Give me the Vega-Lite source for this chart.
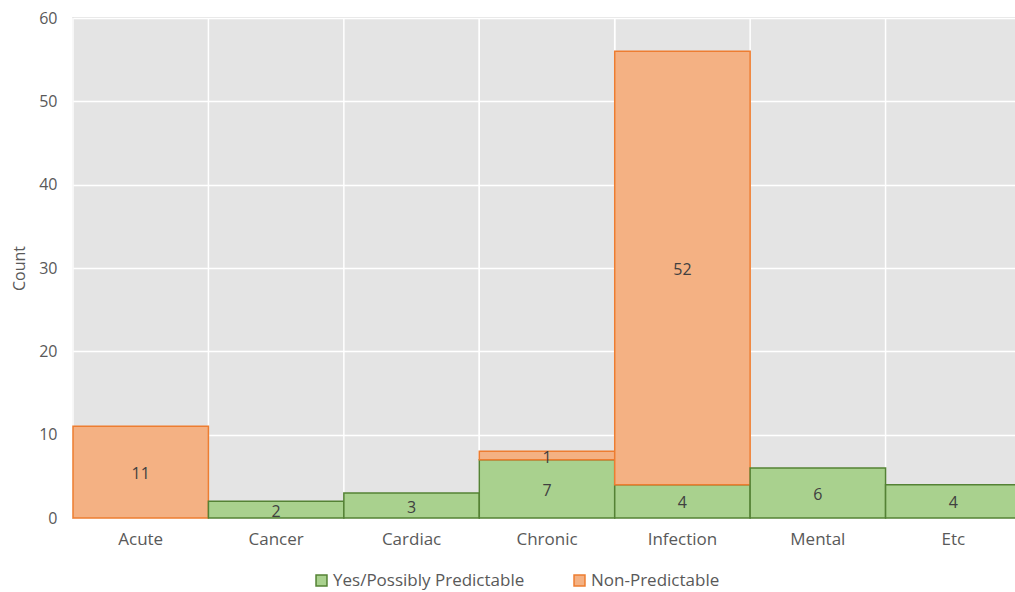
{
  "$schema": "https://vega.github.io/schema/vega-lite/v6.json",
  "width": 948,
  "height": 500,
  "autosize": {"type": "none"},
  "padding": {"left": 73, "top": 18, "right": -6, "bottom": 74},
  "background": "white",
  "config": {
    "font": "Open Sans",
    "view": {"fill": "#e4e4e4", "stroke": "#d9d9d9", "strokeWidth": 1.5},
    "axis": {"labelFont": "Open Sans", "titleFont": "Open Sans", "labelColor": "#595959", "titleColor": "#595959", "labelFontSize": 16, "titleFontSize": 16, "titleFontWeight": "normal"}
  },
  "data": {"values": [
    {"cat": "Acute", "series": "Non-Predictable", "count": 11},
    {"cat": "Cancer", "series": "Yes/Possibly Predictable", "count": 2},
    {"cat": "Cardiac", "series": "Yes/Possibly Predictable", "count": 3},
    {"cat": "Chronic", "series": "Yes/Possibly Predictable", "count": 7},
    {"cat": "Chronic", "series": "Non-Predictable", "count": 1},
    {"cat": "Infection", "series": "Yes/Possibly Predictable", "count": 4},
    {"cat": "Infection", "series": "Non-Predictable", "count": 52},
    {"cat": "Mental", "series": "Yes/Possibly Predictable", "count": 6},
    {"cat": "Etc", "series": "Yes/Possibly Predictable", "count": 4}
  ]},
  "layer": [
    {
      "mark": {"type": "rule", "color": "white", "strokeWidth": 1.5},
      "encoding": {
        "x": {"field": "cat", "type": "nominal", "bandPosition": 0, "sort": ["Acute","Cancer","Cardiac","Chronic","Infection","Mental","Etc"]}
      }
    },
    {
      "mark": {"type": "bar", "strokeWidth": 1.5},
      "encoding": {
        "x": {"field": "cat", "type": "nominal", "sort": ["Acute","Cancer","Cardiac","Chronic","Infection","Mental","Etc"],
              "scale": {"paddingInner": 0, "paddingOuter": 0},
              "axis": {"title": null, "labelAngle": 0, "labelAlign": "center", "bandPosition": 0.5, "ticks": false, "domain": false, "grid": false, "labelPadding": 21, "labelFontSize": 17}},
        "y": {"field": "count", "type": "quantitative", "stack": "zero",
              "scale": {"domain": [0, 60]},
              "axis": {"title": "Count", "values": [0,10,20,30,40,50,60], "ticks": false, "domain": false, "grid": true, "gridColor": "white", "gridWidth": 1.5, "labelPadding": 16, "titlePadding": 11}},
        "color": {"field": "series", "type": "nominal",
                  "scale": {"domain": ["Yes/Possibly Predictable", "Non-Predictable"], "range": ["#a9d18e", "#f4b183"]},
                  "legend": {"title": null, "orient": "none", "legendX": 240, "legendY": 554, "direction": "horizontal", "symbolType": "square", "symbolSize": 120, "symbolStrokeWidth": 1.5, "labelFontSize": 17, "labelColor": "#595959", "labelFont": "Open Sans", "labelLimit": 0, "columnPadding": 46, "labelOffset": 3, "padding": 0}},
        "stroke": {"field": "series", "type": "nominal",
                   "scale": {"domain": ["Yes/Possibly Predictable", "Non-Predictable"], "range": ["#548235", "#ed7d31"]},
                   "legend": {"title": null, "orient": "none", "legendX": 240, "legendY": 554, "direction": "horizontal", "symbolType": "square", "symbolSize": 120, "symbolStrokeWidth": 1.5, "labelFontSize": 17, "labelColor": "#595959", "labelFont": "Open Sans", "labelLimit": 0, "columnPadding": 46, "labelOffset": 3, "padding": 0}},
        "order": {"field": "series", "sort": "descending"}
      }
    },
    {
      "mark": {"type": "text", "fontSize": 16, "color": "#404040", "font": "Open Sans", "dy": 2},
      "encoding": {
        "x": {"field": "cat", "type": "nominal", "sort": ["Acute","Cancer","Cardiac","Chronic","Infection","Mental","Etc"]},
        "y": {"field": "count", "type": "quantitative", "stack": "zero", "bandPosition": 0.5},
        "detail": {"field": "series"},
        "order": {"field": "series", "sort": "descending"},
        "text": {"field": "count", "type": "quantitative"}
      }
    }
  ]
}
